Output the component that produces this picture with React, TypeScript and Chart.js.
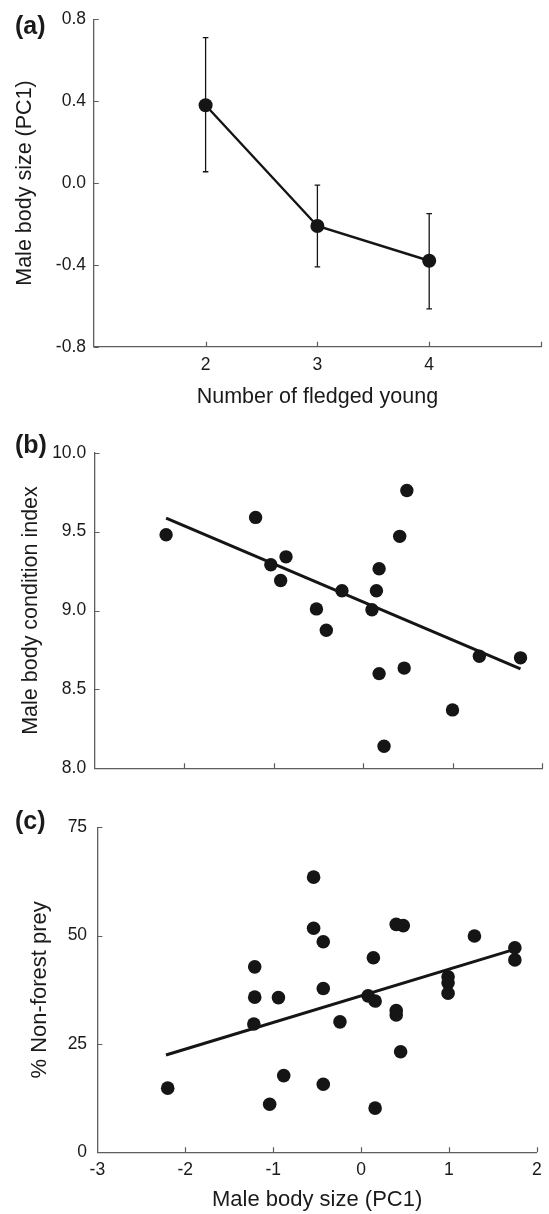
import React, { useEffect, useRef } from "react";
import { Chart, registerables } from "chart.js";

Chart.register(...registerables);

const FONT = "'Liberation Sans', Arial, Helvetica, sans-serif";
const INK = "#151515";
const AXIS = "#5e5e5e";
const TEXT = "#1a1a1a";
const TICK_SIZE = 17.5;

// ---------- Panel (a) ----------
const fledgedYoung = [2, 3, 4];
const sizeMean = [0.38, -0.21, -0.38];
const sizeErrUpper = [0.71, -0.01, -0.15];
const sizeErrLower = [0.055, -0.41, -0.615];
const aXTickValues = [2, 3, 4, 5];
const aXTickLabels = ["2", "3", "4"];
const aYTickValues = [-0.8, -0.4, 0, 0.4, 0.8];

// ---------- Panel (b) ----------
const bodySizeB = [-2.2, -1.2, -1.03, -0.86, -0.92, -0.52, -0.41, -0.235, 0.1, 0.15, 0.18, 0.18, 0.235, 0.41, 0.49, 0.46, 1.0, 1.3, 1.76];
const conditionB = [9.48, 9.59, 9.29, 9.34, 9.19, 9.01, 8.875, 9.125, 9.005, 9.125, 9.265, 8.6, 8.14, 9.47, 9.76, 8.635, 8.37, 8.71, 8.7];
const fitBX = [-2.2, 1.76];
const fitBY = [9.585, 8.63];
const bXTickValues = [-2, -1, 0, 1, 2];
const bYTickValues = [8.0, 8.5, 9.0, 9.5, 10.0];

// ---------- Panel (c) ----------
const bodySizeC = [-2.2, -1.21, -1.21, -1.22, -0.94, -0.88, -1.04, -0.54, -0.54, -0.43, -0.43, -0.43, -0.24, 0.08, 0.16, 0.14, 0.16, 0.4, 0.48, 0.4, 0.4, 0.45, 0.99, 0.99, 0.99, 1.29, 1.75, 1.75];
const nonForestC = [14.8, 42.8, 35.8, 29.6, 35.7, 17.7, 11.1, 63.5, 51.7, 48.6, 37.8, 15.7, 30.1, 36.1, 34.9, 44.9, 10.2, 52.6, 52.3, 32.7, 31.7, 23.2, 40.5, 39.1, 36.7, 49.9, 47.2, 44.4];
const fitCX = [-2.22, 1.726];
const fitCY = [22.45, 46.7];
const cXTickValues = [-2, -1, 0, 1, 2];
const cYTickValues = [0, 25, 50, 75];

const toPts = (xs: number[], ys: number[]) => xs.map((x, i) => ({ x, y: ys[i] }));

type DecorOpts = {
  label: string;
  labelX: number;
  labelY: number;
  xTicks: number[];
  yTicks: number[];
  errors?: { x: number[]; hi: number[]; lo: number[] };
};

function decorPlugin(o: DecorOpts) {
  return {
    id: "decor",
    beforeDatasetsDraw(chart: any) {
      if (!o.errors) return;
      const { ctx } = chart;
      const xs = chart.scales.x;
      const ys = chart.scales.y;
      ctx.save();
      ctx.strokeStyle = INK;
      ctx.lineWidth = 1.3;
      o.errors.x.forEach((xv, i) => {
        const px = xs.getPixelForValue(xv);
        const p1 = ys.getPixelForValue(o.errors!.hi[i]);
        const p2 = ys.getPixelForValue(o.errors!.lo[i]);
        ctx.beginPath();
        ctx.moveTo(px, p1);
        ctx.lineTo(px, p2);
        ctx.moveTo(px - 2.8, p1);
        ctx.lineTo(px + 2.8, p1);
        ctx.moveTo(px - 2.8, p2);
        ctx.lineTo(px + 2.8, p2);
        ctx.stroke();
      });
      ctx.restore();
    },
    afterDraw(chart: any) {
      const { ctx, chartArea } = chart;
      const xs = chart.scales.x;
      const ys = chart.scales.y;
      ctx.save();
      ctx.strokeStyle = AXIS;
      ctx.lineWidth = 1.2;
      ctx.beginPath();
      o.xTicks.forEach((v) => {
        const px = Math.round(xs.getPixelForValue(v)) + 0.5;
        ctx.moveTo(px, chartArea.bottom);
        ctx.lineTo(px, chartArea.bottom - 5);
      });
      o.yTicks.forEach((v) => {
        const py = Math.round(ys.getPixelForValue(v)) + 0.5;
        ctx.moveTo(chartArea.left, py);
        ctx.lineTo(chartArea.left + 5, py);
      });
      ctx.stroke();
      ctx.fillStyle = TEXT;
      ctx.font = `bold 25px ${FONT}`;
      ctx.textBaseline = "alphabetic";
      ctx.textAlign = "left";
      ctx.fillText(o.label, o.labelX, o.labelY);
      ctx.restore();
    },
  };
}

function axisY(opts: {
  min: number; max: number; step: number; width: number; pad: number;
  title: string; titleSize: number; titlePad: number; fmt: (v: number) => string;
}) {
  return {
    type: "linear",
    min: opts.min,
    max: opts.max,
    afterFit: (s: any) => { s.width = opts.width; },
    grid: { display: false, drawTicks: false },
    border: { display: true, color: AXIS, width: 1.3 },
    ticks: {
      stepSize: opts.step,
      padding: opts.pad,
      color: TEXT,
      font: { family: FONT, size: TICK_SIZE },
      callback: (v: any) => opts.fmt(Number(v)),
    },
    title: {
      display: true,
      text: opts.title,
      color: TEXT,
      font: { family: FONT, size: opts.titleSize },
      padding: { top: opts.titlePad, bottom: 0 },
    },
  };
}

function makeA(canvas: HTMLCanvasElement) {
  return new Chart(canvas, {
    type: "scatter",
    data: {
      datasets: [
        {
          data: toPts(fledgedYoung, sizeMean),
          showLine: true,
          borderColor: INK,
          borderWidth: 2.4,
          backgroundColor: INK,
          pointBackgroundColor: INK,
          pointBorderWidth: 0,
          pointRadius: 7,
          clip: false,
        } as any,
      ],
    },
    options: {
      responsive: false,
      animation: false,
      events: [],
      layout: { padding: { left: 0, right: 6, top: 19.3, bottom: 0 } },
      plugins: { legend: { display: false }, tooltip: { enabled: false } },
      scales: {
        x: {
          type: "linear",
          min: 1,
          max: 5,
          afterFit: (s: any) => { s.height = 73.3; },
          grid: { display: false, drawTicks: false },
          border: { display: true, color: AXIS, width: 1.3 },
          ticks: {
            stepSize: 1,
            padding: 8,
            color: TEXT,
            font: { family: FONT, size: TICK_SIZE },
            callback: (v: any) => {
              const i = fledgedYoung.indexOf(Number(v));
              return i >= 0 ? aXTickLabels[i] : "";
            },
          },
          title: {
            display: true,
            text: "Number of fledged young",
            color: TEXT,
            font: { family: FONT, size: 21.5 },
            padding: { top: 0, bottom: 10.5 },
          },
        },
        y: axisY({
          min: -0.8, max: 0.8, step: 0.4, width: 93.8, pad: 7.8,
          title: "Male body size (PC1)", titleSize: 21.5, titlePad: 12.5,
          fmt: (v) => (Math.abs(v) < 1e-9 ? "0.0" : v.toFixed(1)),
        }),
      } as any,
    },
    plugins: [
      decorPlugin({
        label: "(a)", labelX: 15, labelY: 34.3,
        xTicks: aXTickValues, yTicks: aYTickValues,
        errors: { x: fledgedYoung, hi: sizeErrUpper, lo: sizeErrLower },
      }),
    ],
  });
}

function makeB(canvas: HTMLCanvasElement) {
  return new Chart(canvas, {
    type: "scatter",
    data: {
      datasets: [
        {
          data: toPts(bodySizeB, conditionB),
          pointRadius: 6.7,
          pointBackgroundColor: INK,
          pointBorderWidth: 0,
          clip: false,
        } as any,
        {
          data: toPts(fitBX, fitBY),
          showLine: true,
          borderColor: INK,
          borderWidth: 3,
          pointRadius: 0,
          clip: false,
        } as any,
      ],
    },
    options: {
      responsive: false,
      animation: false,
      events: [],
      layout: { padding: { left: 0, right: 7, top: 32.7, bottom: 0 } },
      plugins: { legend: { display: false }, tooltip: { enabled: false } },
      scales: {
        x: {
          type: "linear",
          min: -3,
          max: 2,
          afterFit: (s: any) => { s.height = 31.7; },
          grid: { display: false, drawTicks: false },
          border: { display: true, color: AXIS, width: 1.3 },
          ticks: { display: false, stepSize: 1 },
          title: { display: false },
        },
        y: axisY({
          min: 8, max: 10, step: 0.5, width: 94.5, pad: 8.3,
          title: "Male body condition index", titleSize: 21.5, titlePad: 17.7,
          fmt: (v) => v.toFixed(1),
        }),
      } as any,
    },
    plugins: [
      decorPlugin({
        label: "(b)", labelX: 15, labelY: 32.7,
        xTicks: bXTickValues, yTicks: bYTickValues,
      }),
    ],
  });
}

function makeC(canvas: HTMLCanvasElement) {
  return new Chart(canvas, {
    type: "scatter",
    data: {
      datasets: [
        {
          data: toPts(bodySizeC, nonForestC),
          pointRadius: 6.8,
          pointBackgroundColor: INK,
          pointBorderWidth: 0,
          clip: false,
        } as any,
        {
          data: toPts(fitCX, fitCY),
          showLine: true,
          borderColor: INK,
          borderWidth: 3,
          pointRadius: 0,
          clip: false,
        } as any,
      ],
    },
    options: {
      responsive: false,
      animation: false,
      events: [],
      layout: { padding: { left: 0, right: 7.3, top: 27.3, bottom: 0 } },
      plugins: { legend: { display: false }, tooltip: { enabled: false } },
      scales: {
        x: {
          type: "linear",
          min: -3,
          max: 2,
          afterFit: (s: any) => { s.height = 61.7; },
          grid: { display: false, drawTicks: false },
          border: { display: true, color: AXIS, width: 1.3 },
          ticks: {
            stepSize: 1,
            padding: 7.3,
            color: TEXT,
            font: { family: FONT, size: TICK_SIZE },
            callback: (v: any) => String(Number(v)),
          },
          title: {
            display: true,
            text: "Male body size (PC1)",
            color: TEXT,
            font: { family: FONT, size: 22 },
            padding: { top: 0, bottom: 1.3 },
          },
        },
        y: axisY({
          min: 0, max: 75, step: 25, width: 97.4, pad: 10.3,
          title: "% Non-forest prey", titleSize: 22, titlePad: 27,
          fmt: (v) => String(v),
        }),
      } as any,
    },
    plugins: [
      decorPlugin({
        label: "(c)", labelX: 15, labelY: 29.3,
        xTicks: cXTickValues, yTicks: cYTickValues,
      }),
    ],
  });
}

export default function App() {
  const refA = useRef<HTMLCanvasElement>(null);
  const refB = useRef<HTMLCanvasElement>(null);
  const refC = useRef<HTMLCanvasElement>(null);

  useEffect(() => {
    const charts = [
      makeA(refA.current!),
      makeB(refB.current!),
      makeC(refC.current!),
    ];
    return () => charts.forEach((c) => c.destroy());
  }, []);

  const base: React.CSSProperties = { position: "absolute", left: 0, display: "block" };
  return (
    <div style={{ position: "absolute", left: 0, top: 0, width: 549, height: 1214, background: "#fff", overflow: "hidden" }}>
      <canvas ref={refA} width={549} height={420} style={{ ...base, top: 0, width: 549, height: 420 }} />
      <canvas ref={refB} width={549} height={380} style={{ ...base, top: 420, width: 549, height: 380 }} />
      <canvas ref={refC} width={549} height={414} style={{ ...base, top: 800, width: 549, height: 414 }} />
    </div>
  );
}
